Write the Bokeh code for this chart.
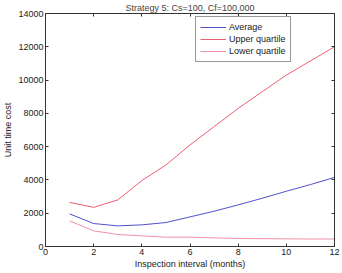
from bokeh.plotting import figure
from bokeh.models import LinearAxis, FixedTicker, Range1d, Legend, LegendItem
from bokeh.embed import file_html
from bokeh.resources import INLINE

months = [1, 2, 3, 4, 5, 6, 7, 8, 9, 10, 11, 12]
average = [1960, 1380, 1240, 1300, 1440, 1780, 2120, 2500, 2900, 3320, 3720, 4150]
upper_q = [2650, 2350, 2800, 3960, 4900, 6100, 7200, 8300, 9300, 10300, 11150, 12000]
lower_q = [1540, 940, 720, 640, 560, 560, 520, 480, 470, 460, 450, 450]
x_ticks = [0, 2, 4, 6, 8, 10, 12]
y_ticks = [0, 2000, 4000, 6000, 8000, 10000, 12000, 14000]

FONT = "Liberation Sans"

p = figure(width=342, height=273, output_backend="svg", toolbar_location=None,
           x_range=Range1d(0, 12), y_range=Range1d(0, 14000),
           min_border_left=41, min_border_right=8, min_border_top=13, min_border_bottom=27,
           background_fill_color="white", border_fill_color="white")

p.title.text = "Strategy 5: Cs=100, Cf=100,000"
p.title.text_font = FONT
p.title.text_font_size = "9px"
p.title.text_font_style = "normal"
p.title.align = "center"
p.title.offset = 0
p.title.standoff = 1

p.grid.visible = False
p.outline_line_color = "#333333"
p.outline_line_width = 1

for ax in [p.xaxis[0], p.yaxis[0]]:
    ax.major_tick_in = 3
    ax.major_tick_out = 0
    ax.minor_tick_line_color = None
    ax.axis_line_color = "#333333"
    ax.major_tick_line_color = "#333333"
    ax.major_label_text_font = FONT
    ax.major_label_text_font_size = "9px"
    ax.major_label_text_color = "#222222"
    ax.axis_label_text_font = FONT
    ax.axis_label_text_font_size = "9px"
    ax.axis_label_text_font_style = "normal"
    ax.axis_label_text_color = "#222222"

p.xaxis[0].ticker = FixedTicker(ticks=x_ticks)
p.yaxis[0].ticker = FixedTicker(ticks=y_ticks)
p.xaxis[0].axis_label = "Inspection interval (months)"
p.yaxis[0].axis_label = "Unit time cost"
p.xaxis[0].major_label_standoff = 2
p.yaxis[0].major_label_standoff = 2
p.xaxis[0].axis_label_standoff = 1
p.yaxis[0].axis_label_standoff = 2

top_ax = LinearAxis(ticker=FixedTicker(ticks=x_ticks), major_label_text_color=None,
                    major_label_text_alpha=0,
                    major_tick_in=3, major_tick_out=0, minor_tick_line_color=None,
                    axis_line_color="#333333", major_tick_line_color="#333333",
                    major_label_standoff=0)
right_ax = LinearAxis(ticker=FixedTicker(ticks=y_ticks), major_label_text_color=None,
                      major_label_text_alpha=0,
                      major_tick_in=3, major_tick_out=0, minor_tick_line_color=None,
                      axis_line_color="#333333", major_tick_line_color="#333333",
                      major_label_standoff=0)
top_ax.major_label_overrides = {t: "" for t in x_ticks}
right_ax.major_label_overrides = {t: "" for t in y_ticks}
p.add_layout(top_ax, "above")
p.add_layout(right_ax, "right")

r_avg = p.line(months, average, line_color="#5050cc", line_width=1)
r_up = p.line(months, upper_q, line_color="#ee6070", line_width=1)
r_lo = p.line(months, lower_q, line_color="#f090a4", line_width=1)

legend = Legend(items=[LegendItem(label="Average", renderers=[r_avg]),
                       LegendItem(label="Upper quartile", renderers=[r_up]),
                       LegendItem(label="Lower quartile", renderers=[r_lo])],
                location=(150, 184))
legend.label_text_font = FONT
legend.label_text_font_size = "9px"
legend.label_text_color = "#222222"
legend.label_height = 12
legend.glyph_height = 12
legend.glyph_width = 26
legend.label_standoff = 3
legend.spacing = 0
legend.padding = 4
legend.margin = 0
legend.border_line_color = "#333333"
legend.border_line_width = 1
legend.background_fill_color = "white"
legend.background_fill_alpha = 1
p.add_layout(legend, "center")

open("out.html", "w").write(file_html(p, INLINE))
